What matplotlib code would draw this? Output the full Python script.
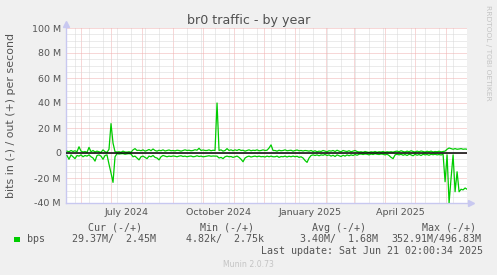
import matplotlib
matplotlib.use("Agg")
import matplotlib.pyplot as plt
import matplotlib.dates as mdates
import matplotlib.transforms as mtransforms
from matplotlib.patches import Rectangle
import numpy as np
import pandas as pd

# ---------------- data (Mbit/s) ----------------
start_time = pd.Timestamp("2024-05-17 02:00")
end_time = pd.Timestamp("2025-06-21 02:00")
sample_step_days = 2

out_mbps = [
    1.5, 1.0, 2.0, 1.2, 1.8, 1.0, 5.0, 1.5, 0.8, 1.2,
    0.5, 4.5, 1.0, 2.0, 0.8, 1.5, 1.0, 0.5, 2.5, 1.0,
    0.5, 3.0, 23.5, 8.0, 1.0, 0.8, 1.0, 0.6, 1.5, 0.8,
    0.7, 1.0, 0.6, 2.5, 3.5, 2.0, 2.2, 1.8, 2.5, 1.5,
    2.0, 2.8, 1.8, 3.2, 2.0, 1.5, 2.2, 1.8, 2.5, 1.6,
    2.0, 2.4, 1.8, 2.0, 1.7, 2.2, 2.0, 1.5, 2.0, 2.5,
    2.0, 2.2, 1.8, 2.0, 2.6, 2.2, 3.8, 2.0, 2.4, 2.0,
    2.0, 2.5, 1.8, 2.2, 2.0, 40.0, 2.0, 2.5, 1.5, 2.0,
    3.5, 2.0, 2.5, 1.8, 2.5, 2.0, 2.8, 2.0, 2.2, 1.5,
    2.0, 2.5, 1.8, 2.2, 2.0, 2.5, 1.8, 2.0, 2.5, 2.0,
    2.2, 4.0, 6.5, 2.0, 2.0, 1.5, 2.2, 1.8, 2.0, 2.5,
    1.8, 2.0, 2.2, 1.5, 2.0, 2.4, 1.8, 2.0, 1.6, 2.0,
    1.8, 1.5, 2.0, 1.2, 1.8, 1.0, 1.5, 1.2, 2.0, 1.5,
    1.0, 1.8, 1.5, 2.0, 1.2, 2.2, 1.5, 1.0, 2.0, 1.5,
    1.2, 1.8, 1.0, 1.5, 2.0, 1.2, 0.8, 1.0, 0.6, 1.2,
    0.8, 0.5, 1.0, 0.7, 1.2, 0.6, 1.0, 0.8, 1.2, 0.6,
    1.0, 0.8, 1.0, 0.7, 1.2, 1.5, 1.0, 1.8, 1.2, 0.8,
    1.5, 1.0, 1.8, 1.2, 0.8, 1.5, 1.0, 1.6, 1.2, 0.8,
    1.4, 1.0, 1.5, 0.8, 1.2, 1.0, 1.4, 0.9, 1.2, 1.5,
    3.0, 4.0, 3.5, 3.0, 3.5, 3.0, 3.2, 3.5, 3.0, 3.2, 3.0,
]

in_mbps = [
    2.0, 5.0, 1.5, 3.0, 4.5, 2.0, 2.5, 1.5, 3.0, 2.0,
    2.5, 1.5, 3.0, 4.0, 6.5, 2.0, 1.5, 2.5, 5.0, 2.0,
    1.5, 9.0, 16.0, 23.5, 3.0, 0.5, 0.8, 0.6, 0.5, 1.0,
    0.7, 0.5, 0.8, 3.0, 2.5, 4.0, 5.5, 3.0, 2.5, 3.5,
    4.5, 2.5, 3.0, 2.0, 3.5, 4.0, 5.5, 3.0, 2.0, 2.5,
    3.0, 2.5, 2.8, 2.4, 2.6, 3.0, 2.5, 2.2, 2.8, 2.5,
    3.0, 2.6, 2.4, 3.0, 2.8, 2.2, 2.8, 2.5, 3.0, 2.8,
    2.5, 2.2, 2.6, 2.4, 2.5, 2.5, 4.0, 3.5, 4.5, 3.0,
    2.5, 3.0, 2.8, 3.5, 3.0, 2.5, 3.5, 5.0, 7.0, 4.0,
    3.0, 2.5, 3.2, 2.8, 2.5, 3.0, 2.5, 3.0, 2.8, 3.2,
    2.5, 3.0, 2.5, 3.0, 3.0, 2.5, 3.5, 2.8, 3.0, 2.5,
    3.2, 2.6, 3.0, 2.5, 3.0, 2.6, 3.5, 3.0, 4.0, 6.0,
    7.5, 4.0, 2.0, 1.5, 2.0, 1.5, 2.2, 1.5, 1.8, 1.2,
    2.0, 1.5, 2.5, 1.8, 2.8, 1.5, 2.2, 2.8, 1.8, 2.5,
    1.5, 2.2, 1.5, 2.0, 1.2, 1.8, 1.0, 0.8, 1.2, 0.8,
    1.0, 1.5, 0.8, 1.2, 0.6, 1.0, 1.2, 0.8, 1.0, 1.5,
    1.0, 2.0, 3.5, 4.5, 1.5, 1.0, 1.5, 1.0, 1.8, 1.2,
    2.0, 1.0, 1.5, 2.2, 1.0, 1.8, 1.2, 2.0, 1.0, 1.5,
    1.2, 1.8, 1.0, 1.4, 1.0, 1.5, 1.2, 1.6, 1.0, 23.0,
    1.5, 40.0, 20.0, 1.5, 31.0, 15.0, 31.0, 29.0, 29.5, 28.0, 29.0,
]

y_ticks = [-40, -20, 0, 20, 40, 60, 80, 100]
y_tick_labels = ["-40 M", "-20 M", "0", "20 M", "40 M", "60 M", "80 M", "100 M"]
x_label_months = ["2024-07", "2024-10", "2025-01", "2025-04"]
x_label_texts = ["July 2024", "October 2024", "January 2025", "April 2025"]

legend_headers = ["Cur (-/+)", "Min (-/+)", "Avg (-/+)", "Max (-/+)"]
legend_values = [" 29.37M/  2.45M", "  4.82k/  2.75k", "  3.40M/  1.68M", "352.91M/496.83M"]
last_update = "Last update: Sat Jun 21 02:00:34 2025"

# ---------------- figure ----------------
W, H = 497, 275
BG = "#F0F0F0"
TXT = "#555555"
GREEN = "#00CC00"
AXC = "#C8C8F0"

def fx(px):
    return px / W

def fy(py):
    return 1 - py / H

fig = plt.figure(figsize=(W / 100, H / 100), dpi=100, facecolor=BG)
ax = fig.add_axes([fx(66), fy(203), 401 / W, 175 / H])
ax.set_facecolor("white")

dates = pd.date_range(start_time + pd.Timedelta(days=1), periods=len(out_mbps),
                      freq=f"{sample_step_days}D")
out_arr = np.array(out_mbps)
in_arr = -np.array(in_mbps)

ax.plot(dates, out_arr, color=GREEN, lw=0.9, zorder=3, solid_joinstyle="round")
ax.plot(dates, in_arr, color=GREEN, lw=0.9, zorder=3, solid_joinstyle="round")
ax.axhline(0, color="black", lw=1.1, zorder=4)

ax.set_xlim(start_time, end_time)
ax.set_ylim(-40, 100)

# grid
ax.set_yticks(y_ticks)
ax.set_yticklabels(y_tick_labels)
ax.set_yticks(np.arange(-40, 101, 5), minor=True)
ax.xaxis.set_major_locator(mdates.MonthLocator())
minor_dates = pd.date_range("2024-05-26", "2025-07-01", freq="14D")
ax.set_xticks(mdates.date2num(minor_dates), minor=True)
ax.set_xticklabels([])
ax.tick_params(axis="both", which="both", length=0)
ax.tick_params(axis="y", which="major", pad=3.6, labelsize=6.8, labelcolor=TXT)

ax.grid(True, which="minor", color="#D8D8D8", lw=0.72, linestyle=(0, (1, 1)), zorder=1)
ax.grid(True, which="major", color="#F0B0B0", lw=0.72, linestyle=(0, (1, 1)), zorder=2)
ax.set_axisbelow(True)

for s in ["top", "right"]:
    ax.spines[s].set_visible(False)
ax.spines["left"].set_color(AXC)
ax.spines["bottom"].set_color(AXC)
ax.spines["left"].set_linewidth(1.0)
ax.spines["bottom"].set_linewidth(1.0)

# axis arrows
up = mtransforms.offset_copy(ax.transAxes, fig=fig, x=0, y=4, units="dots")
rt = mtransforms.offset_copy(ax.transAxes, fig=fig, x=4, y=0, units="dots")
ax.plot([0], [1], marker="^", color=AXC, markersize=4.5, transform=up, clip_on=False)
ax.plot([1], [0], marker=">", color=AXC, markersize=4.5, transform=rt, clip_on=False)

# x labels at month centres
blend = mtransforms.blended_transform_factory(ax.transData, fig.transFigure)
for m, t in zip(x_label_months, x_label_texts):
    p = pd.Period(m, freq="M")
    a = mdates.date2num(p.start_time)
    b = mdates.date2num((p + 1).start_time)
    fig.text((a + b) / 2, fy(215), t, transform=blend, ha="center", va="baseline",
             fontsize=6.8, color=TXT)

# titles
fig.text(fx(248.5), fy(24.3), "br0 traffic - by year", ha="center", va="baseline",
         fontsize=9.1, color="#505050")
fig.text(fx(11), fy(115), "bits in (-) / out (+) per second", rotation=90,
         ha="center", va="center", fontsize=7.9, color=TXT)
fig.text(fx(488), fy(5), "RRDTOOL / TOBI OETIKER", rotation=270, ha="center", va="top",
         fontsize=5.4, color="#C4C4C4")

# legend
mono = "DejaVu Sans Mono"
header_x = [89, 200.5, 312, 422.5]
for x, t in zip(header_x, legend_headers):
    fig.text(fx(x - 0.5), fy(230.7), t, ha="left", va="baseline", fontsize=7.2,
             family=mono, color=TXT)
value_x = [66.3, 174, 289, 391.7]
fig.patches.append(Rectangle((fx(14), fy(242)), 5.5 / W, 5.5 / H, transform=fig.transFigure,
                             facecolor=GREEN, edgecolor="none"))
fig.text(fx(26.5), fy(242.3), "bps", ha="left", va="baseline", fontsize=7.2,
         family=mono, color=TXT)
for x, t in zip(value_x, legend_values):
    fig.text(fx(x - 0.5), fy(242.3), t, ha="left", va="baseline", fontsize=7.2,
             family=mono, color=TXT)
fig.text(fx(483), fy(254), last_update, ha="right", va="baseline", fontsize=7.2,
         family=mono, color=TXT)
fig.text(fx(248.5), fy(266.7), "Munin 2.0.73", ha="center", va="baseline", fontsize=5.6,
         color="#C4C4C4")

fig.savefig("out.png", dpi=100, facecolor=BG)
